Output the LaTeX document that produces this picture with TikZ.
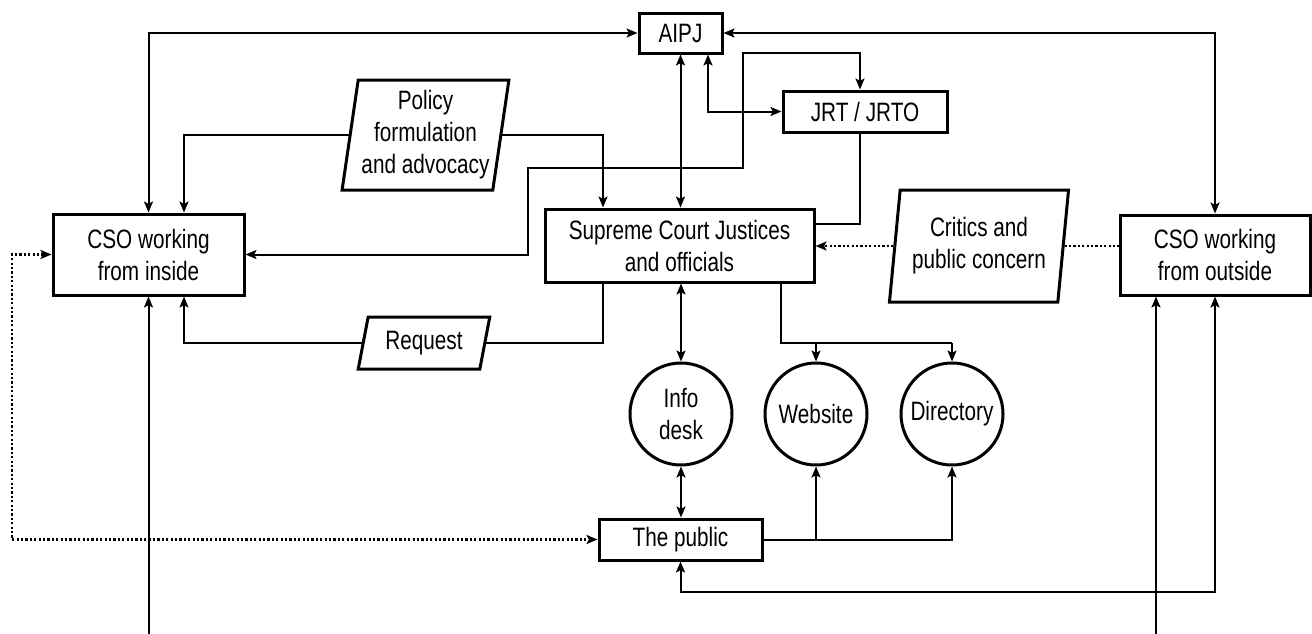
\documentclass[tikz,border=0pt]{standalone}
\usepackage{fontspec}
\setmainfont{Liberation Sans}[FakeStretch=0.78]
\usetikzlibrary{arrows.meta,shapes.geometric}
\begin{document}
\begin{tikzpicture}[x=0.5pt,y=-0.5pt,
  every node/.style={font=\fontsize{13.3pt}{16pt}\selectfont, align=center},
  box/.style={draw, line width=1.5pt, rectangle, inner sep=0pt},
  para/.style={draw, line width=1.5pt, trapezium, trapezium stretches=true, inner sep=0pt},
  circ/.style={draw, line width=1.5pt, circle, minimum size=51pt, inner sep=0pt},
  conn/.style={line width=1pt},
  tip/.tip={Stealth[length=5.5pt,width=4.5pt,inset=1.2pt]},
  arr/.style={conn, -tip},
  dbl/.style={conn, tip-tip},
  dotl/.style={line width=1.25pt, dash pattern=on 1.1pt off 1.1pt},
  dotarr/.style={dotl, tip-tip},
  dotone/.style={dotl, -tip}]
\useasboundingbox (0,0) rectangle (1312,633);

% nodes
\node[box, minimum width=41.5pt, minimum height=20pt] (aipj) at (680.5,33) {AIPJ};
\node[box, minimum width=82pt, minimum height=20.5pt] (jrt) at (865,111.5) {JRT / JRTO};
\node[box, minimum width=134.5pt, minimum height=36.5pt] (sc) at (679.5,245.5) {Supreme Court Justices\\and officials};
\node[box, minimum width=95.5pt, minimum height=40.5pt] (csoin) at (148.5,254.5) {CSO working\\from inside};
\node[box, minimum width=95pt, minimum height=40pt] (csoout) at (1215,255) {CSO working\\from outside};
\node[box, minimum width=81.5pt, minimum height=20.5pt] (public) at (680.5,539.5) {The public};
\node[circ] (info) at (681,414) {Info\\desk};
\node[circ] (web) at (816,414) {Website};
\node[circ] (dir) at (952,414) {Directory};
\node[para, trapezium left angle=80.2, trapezium right angle=99.8, minimum width=83.5pt, minimum height=55pt] (policy) at (425.5,135) {Policy\\formulation\\and advocacy};
\node[para, trapezium left angle=80.9, trapezium right angle=99.1, minimum width=90pt, minimum height=56pt] (critics) at (979,246) {Critics and\\public concern};
\node[para, trapezium left angle=73.9, trapezium right angle=106.1, minimum width=66pt, minimum height=26pt] (request) at (424,343) {Request};

% helper coordinates
\coordinate (dl) at (12,0);
\coordinate (br) at (0,343);
\coordinate (yb) at (0,592);
\coordinate (bot) at (0,640);
\coordinate (ci2) at ([xshift=17.75pt]csoin.south);
\coordinate (co2) at ([xshift=-29.5pt]csoout.south);

% connectors
\draw[dbl] (csoin.north) |- (aipj.west);
\draw[dbl] (aipj.east) -| (csoout.north);
\draw[arr] (policy.west) -| ([xshift=17.75pt]csoin.north);
\draw[arr] (policy.east) -| ([xshift=-38.25pt]sc.north);
\draw[dbl] (aipj.south) -- (aipj.south |- sc.north);
\draw[dbl] ([xshift=13.75pt]aipj.south) |- (jrt.west);
\draw[dbl] (csoin.east) -| (528,168) -| (743,53) -| ([xshift=-2.5pt]jrt.north);
\draw[conn] ([xshift=-2.5pt]jrt.south) |- ([yshift=10.75pt]sc.east);
\draw[dotone] (critics.west) -- (critics.west -| sc.east);
\draw[dotl] (critics.east) -- (critics.east -| csoout.west);
\draw[dotarr] (csoin.west) -| (public.west -| dl) -- (public.west);
\draw[conn] ([xshift=-38.25pt]sc.south) |- (request.east);
\draw[arr] (request.west) -| (ci2);
\draw[dbl] (info.north |- sc.south) -- (info.north);
\draw[conn] ([xshift=50.75pt]sc.south) |- (dir.north |- br);
\draw[arr] (web.north |- br) -- (web.north);
\draw[arr] (dir.north |- br) -- (dir.north);
\draw[dbl] (info.south) -- (info.south |- public.north);
\draw[arr] (public.east) -| (dir.south);
\draw[arr] (web.south |- public.east) -- (web.south);
\draw[dbl] (public.south) -- (public.south |- yb) -| (csoout.south);
\draw[arr] (csoin.south |- bot) -- (csoin.south);
\draw[arr] (co2 |- bot) -- (co2);
\end{tikzpicture}
\end{document}
